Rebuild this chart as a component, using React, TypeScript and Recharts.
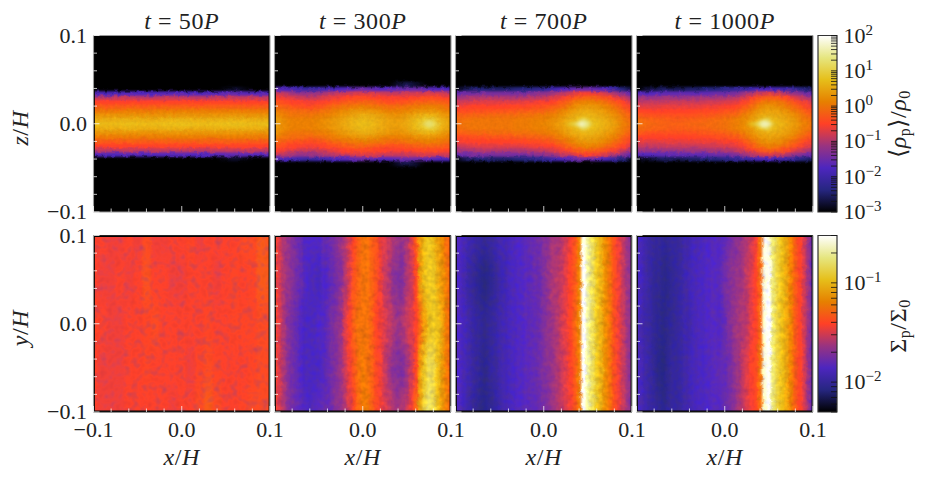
import { ScatterChart, Scatter, XAxis, YAxis, ReferenceArea } from "recharts";

// CMRmap colour stops, low to high
const CMAP = [
  [0, 0, 0], [38, 38, 128], [77, 38, 191], [153, 51, 128], [255, 64, 38],
  [230, 128, 0], [230, 191, 26], [230, 230, 128], [255, 255, 255],
];

const TITLES = ["50", "300", "700", "1000"];
const AXIS_TICKS = [-0.1, -0.08, -0.06, -0.04, -0.02, 0, 0.02, 0.04, 0.06, 0.08, 0.1];

const RHO_TICKS = [
  0.001, 0.002, 0.003, 0.004, 0.005, 0.006, 0.007, 0.008, 0.009,
  0.01, 0.02, 0.03, 0.04, 0.05, 0.06, 0.07, 0.08, 0.09,
  0.1, 0.2, 0.3, 0.4, 0.5, 0.6, 0.7, 0.8, 0.9,
  1, 2, 3, 4, 5, 6, 7, 8, 9,
  10, 20, 30, 40, 50, 60, 70, 80, 90, 100,
];
const SIGMA_TICKS = [0.005, 0.006, 0.007, 0.008, 0.009, 0.01, 0.02, 0.03, 0.04, 0.05, 0.06, 0.07, 0.08, 0.09, 0.1, 0.2, 0.3];

// log10 of <rho_p>/rho_0, one row per z (z = 0 upward, mirrored below the midplane)
const RHO_Z = [0, 0.005, 0.01, 0.015, 0.02, 0.025, 0.03, 0.035, 0.04, 0.045];

const RHO_50 = [
  [0.7, 0.65, 0.7, 0.65, 0.7, 0.72, 0.68, 0.7, 0.72, 0.68, 0.7],
  [0.55, 0.55, 0.58, 0.55, 0.58, 0.6, 0.55, 0.58, 0.6, 0.55, 0.55],
  [0.3, 0.3, 0.3, 0.28, 0.3, 0.32, 0.3, 0.3, 0.32, 0.3, 0.3],
  [0.05, 0.05, 0.08, 0.05, 0.1, 0.1, 0.08, 0.08, 0.1, 0.05, 0.05],
  [-0.25, -0.25, -0.22, -0.25, -0.22, -0.2, -0.22, -0.22, -0.22, -0.25, -0.25],
  [-0.5, -0.5, -0.5, -0.5, -0.48, -0.48, -0.5, -0.48, -0.48, -0.5, -0.5],
  [-0.85, -0.9, -0.85, -0.9, -0.85, -0.85, -0.9, -0.85, -0.85, -0.85, -0.9],
  [-1.7, -1.8, -1.7, -1.75, -1.7, -1.7, -1.75, -1.7, -1.6, -1.7, -1.7],
  [-3, -3, -3, -3, -3, -3, -3, -3, -2.8, -3, -3],
  [-3, -3, -3, -3, -3, -3, -3, -3, -3, -3, -3],
];

const RHO_300 = [
  [0.4, 0.2, 0.1, 0.1, 0.1, 0.15, 0.25, 0.35, 0.5, 0.6, 0.7, 0.65, 0.5, 0.4, 0.4, 0.5, 0.7, 0.95, 1.05, 0.6, 0.4],
  [0.4, 0.2, 0.1, 0.1, 0.1, 0.15, 0.25, 0.35, 0.45, 0.6, 0.65, 0.6, 0.5, 0.4, 0.35, 0.45, 0.65, 0.85, 0.9, 0.55, 0.35],
  [0.3, 0.1, 0, 0, 0, 0.05, 0.1, 0.25, 0.35, 0.45, 0.55, 0.5, 0.4, 0.3, 0.25, 0.35, 0.5, 0.6, 0.6, 0.4, 0.25],
  [0.1, 0, -0.1, -0.1, -0.15, -0.1, 0, 0.1, 0.2, 0.3, 0.35, 0.3, 0.2, 0.1, 0.1, 0.15, 0.25, 0.3, 0.3, 0.2, 0.05],
  [-0.1, -0.2, -0.3, -0.35, -0.4, -0.35, -0.2, -0.1, 0, 0.05, 0.1, 0.05, 0, -0.1, -0.1, 0, 0.05, 0.1, 0.1, 0, -0.1],
  [-0.3, -0.4, -0.5, -0.55, -0.6, -0.55, -0.45, -0.35, -0.25, -0.2, -0.15, -0.2, -0.3, -0.35, -0.35, -0.3, -0.2, -0.15, -0.15, -0.2, -0.3],
  [-0.5, -0.6, -0.7, -0.8, -0.85, -0.8, -0.7, -0.6, -0.5, -0.45, -0.4, -0.45, -0.5, -0.55, -0.55, -0.5, -0.45, -0.4, -0.4, -0.45, -0.5],
  [-0.8, -0.9, -1.1, -1.2, -1.2, -1.1, -1, -0.9, -0.8, -0.75, -0.7, -0.75, -0.8, -0.85, -0.85, -0.85, -0.8, -0.75, -0.75, -0.8, -0.85],
  [-1.6, -1.8, -1.9, -2, -2.1, -2, -1.9, -1.8, -1.7, -1.6, -1.5, -1.6, -1.7, -1.7, -1.6, -1.5, -1.5, -1.6, -1.7, -1.8, -1.8],
  [-3, -3, -3, -3, -3, -3, -3, -3, -3, -3, -3, -3, -3, -3, -2.8, -2.6, -2.8, -3, -3, -3, -3],
];

const RHO_700 = [
  [-0.1, 0, 0, 0, 0, 0, 0, 0.05, 0.05, 0.1, 0.15, 0.25, 0.4, 0.6, 0.85, 0.78, 0.7, 0.55, 0.4, 0.1, -0.1],
  [-0.1, -0.05, 0, 0, 0, 0, 0, 0.05, 0.05, 0.1, 0.1, 0.2, 0.35, 0.55, 0.72, 0.72, 0.65, 0.5, 0.35, 0.05, -0.15],
  [-0.2, -0.2, -0.15, -0.15, -0.1, -0.1, -0.1, -0.05, -0.05, 0, 0.05, 0.1, 0.25, 0.45, 0.6, 0.62, 0.55, 0.42, 0.25, 0, -0.25],
  [-0.4, -0.4, -0.35, -0.35, -0.3, -0.3, -0.3, -0.25, -0.2, -0.2, -0.15, -0.05, 0.1, 0.3, 0.45, 0.5, 0.42, 0.3, 0.1, -0.15, -0.4],
  [-0.6, -0.55, -0.5, -0.5, -0.5, -0.5, -0.5, -0.45, -0.45, -0.4, -0.35, -0.25, -0.1, 0.1, 0.3, 0.35, 0.3, 0.15, -0.05, -0.3, -0.55],
  [-0.85, -0.8, -0.7, -0.7, -0.7, -0.7, -0.7, -0.7, -0.65, -0.6, -0.55, -0.5, -0.3, -0.1, 0.1, 0.15, 0.1, -0.05, -0.25, -0.5, -0.8],
  [-1.1, -1.05, -1, -0.95, -0.95, -0.95, -1, -1, -0.95, -0.9, -0.85, -0.75, -0.6, -0.4, -0.2, -0.15, -0.2, -0.35, -0.55, -0.8, -1.1],
  [-1.6, -1.5, -1.4, -1.4, -1.4, -1.4, -1.4, -1.4, -1.4, -1.3, -1.25, -1.1, -0.95, -0.8, -0.6, -0.55, -0.6, -0.8, -1, -1.3, -1.7],
  [-3, -2.6, -2.5, -2.4, -2.5, -2.5, -2.5, -2.4, -2.4, -2.3, -2.2, -2, -1.8, -1.6, -1.5, -1.5, -1.6, -1.8, -2.1, -2.4, -2.8],
  [-3, -3, -3, -3, -3, -3, -3, -3, -3, -3, -3, -3, -3, -3, -3, -3, -3, -3, -3, -3, -3],
];

const RHO_1000 = [
  [0, -0.1, -0.15, -0.2, -0.2, -0.2, -0.15, -0.15, -0.1, -0.1, -0.05, 0.05, 0.15, 0.4, 0.85, 0.78, 0.65, 0.5, 0.35, 0.1, -0.05],
  [-0.05, -0.15, -0.2, -0.2, -0.25, -0.25, -0.2, -0.2, -0.15, -0.1, -0.05, 0.05, 0.15, 0.35, 0.68, 0.68, 0.6, 0.45, 0.3, 0.05, -0.1],
  [-0.25, -0.3, -0.35, -0.35, -0.35, -0.35, -0.35, -0.3, -0.3, -0.25, -0.2, -0.1, 0.05, 0.25, 0.5, 0.55, 0.5, 0.38, 0.2, -0.05, -0.25],
  [-0.45, -0.5, -0.5, -0.5, -0.5, -0.5, -0.5, -0.45, -0.45, -0.4, -0.35, -0.3, -0.15, 0.1, 0.35, 0.42, 0.38, 0.25, 0.05, -0.2, -0.4],
  [-0.65, -0.7, -0.7, -0.65, -0.65, -0.65, -0.65, -0.65, -0.6, -0.6, -0.55, -0.5, -0.35, -0.1, 0.2, 0.3, 0.25, 0.05, -0.15, -0.4, -0.6],
  [-0.85, -0.9, -0.9, -0.85, -0.85, -0.85, -0.85, -0.85, -0.8, -0.8, -0.75, -0.7, -0.55, -0.3, 0, 0.1, 0.05, -0.1, -0.35, -0.6, -0.8],
  [-1.1, -1.15, -1.15, -1.1, -1.1, -1.1, -1.1, -1.1, -1.05, -1.05, -1, -0.95, -0.8, -0.55, -0.3, -0.2, -0.25, -0.45, -0.7, -0.95, -1.05],
  [-1.7, -1.7, -1.7, -1.6, -1.6, -1.6, -1.6, -1.6, -1.6, -1.5, -1.5, -1.4, -1.2, -1, -0.8, -0.7, -0.8, -1, -1.2, -1.4, -1.6],
  [-3, -2.8, -2.7, -2.5, -2.6, -2.6, -2.5, -2.5, -2.4, -2.4, -2.3, -2.2, -2.1, -2, -1.8, -1.8, -1.9, -2, -2.2, -2.4, -2.6],
  [-3, -3, -3, -3, -3, -3, -3, -3, -3, -3, -3, -3, -3, -3, -3, -3, -3, -3, -3, -3, -3],
];

// bright clump cores, [x, z, log10 value]
const CORE_300 = [[0.0725, 0, 1.25], [0.075, 0, 1.4], [0.0775, 0, 1.25], [0.075, 0.0025, 1.25], [0.075, -0.0025, 1.25]];
const CORE_700 = [
  [0.03, 0, 0.85], [0.035, 0, 1.05], [0.04, 0, 1.5], [0.0425, 0, 1.95], [0.045, 0, 2], [0.0475, 0, 1.8], [0.05, 0, 1.3],
  [0.0425, 0.0025, 1.5], [0.045, 0.0025, 1.8], [0.0475, 0.0025, 1.4], [0.0425, -0.0025, 1.5], [0.045, -0.0025, 1.8], [0.0475, -0.0025, 1.4],
  [0.045, 0.005, 1.2], [0.045, -0.005, 1.2],
];
const CORE_1000 = [
  [0.03, 0, 0.7], [0.035, 0, 0.95], [0.04, 0, 1.4], [0.0425, 0, 1.7], [0.045, 0, 1.95], [0.0475, 0, 2], [0.05, 0, 1.5],
  [0.0425, 0.0025, 1.4], [0.045, 0.0025, 1.7], [0.0475, 0.0025, 1.6], [0.0425, -0.0025, 1.4], [0.045, -0.0025, 1.7], [0.0475, -0.0025, 1.6],
  [0.0475, 0.005, 1.15], [0.0475, -0.005, 1.15],
];

// log10 of Sigma_p/Sigma_0, one row per y, top to bottom
const SIGMA_Y = [0.1, 0.05, 0, -0.05, -0.1];

const SIGMA_50 = [
  [-1.42, -1.42, -1.45, -1.45, -1.42, -1.45, -1.38, -1.45, -1.45, -1.42, -1.42, -1.4, -1.45, -1.42, -1.42, -1.42, -1.42, -1.38, -1.38, -1.33, -1.35],
  [-1.42, -1.45, -1.45, -1.42, -1.45, -1.42, -1.36, -1.42, -1.42, -1.45, -1.45, -1.42, -1.42, -1.42, -1.45, -1.42, -1.4, -1.42, -1.4, -1.33, -1.33],
  [-1.4, -1.42, -1.45, -1.45, -1.42, -1.42, -1.4, -1.38, -1.42, -1.42, -1.42, -1.42, -1.42, -1.4, -1.42, -1.42, -1.4, -1.4, -1.4, -1.38, -1.38],
  [-1.42, -1.45, -1.45, -1.45, -1.42, -1.42, -1.4, -1.42, -1.42, -1.42, -1.42, -1.45, -1.4, -1.38, -1.4, -1.42, -1.42, -1.42, -1.4, -1.38, -1.38],
  [-1.42, -1.45, -1.45, -1.45, -1.42, -1.42, -1.42, -1.42, -1.42, -1.45, -1.42, -1.42, -1.38, -1.32, -1.38, -1.42, -1.42, -1.4, -1.38, -1.38, -1.38],
];

const SIGMA_300 = [
  [-1.4, -1.5, -1.6, -1.65, -1.7, -1.75, -1.8, -1.85, -1.85, -1.85,
    -1.85, -1.8, -1.8, -1.75, -1.7, -1.65, -1.6, -1.5, -1.4, -1.3,
    -1.25, -1.25, -1.3, -1.35, -1.45, -1.5, -1.55, -1.6, -1.65, -1.65,
    -1.6, -1.5, -1.35, -1.1, -1, -0.95, -1, -1.1, -1.18, -1.27,
    -1.32],
  [-1.4, -1.5, -1.6, -1.65, -1.7, -1.75, -1.8, -1.85, -1.88, -1.88,
    -1.9, -1.85, -1.85, -1.8, -1.75, -1.7, -1.6, -1.5, -1.35, -1.3,
    -1.25, -1.25, -1.3, -1.35, -1.45, -1.55, -1.6, -1.7, -1.72, -1.72,
    -1.6, -1.55, -1.4, -1.1, -0.98, -0.95, -0.95, -1.05, -1.13, -1.22,
    -1.32],
  [-1.4, -1.5, -1.6, -1.7, -1.75, -1.8, -1.85, -1.88, -1.88, -1.88,
    -1.85, -1.85, -1.8, -1.75, -1.7, -1.65, -1.5, -1.4, -1.3, -1.25,
    -1.25, -1.25, -1.3, -1.4, -1.45, -1.5, -1.55, -1.6, -1.65, -1.6,
    -1.55, -1.5, -1.42, -1.3, -1.1, -0.98, -0.95, -0.98, -1.08, -1.22,
    -1.32],
  [-1.4, -1.5, -1.6, -1.7, -1.75, -1.8, -1.85, -1.88, -1.88, -1.88,
    -1.88, -1.85, -1.8, -1.75, -1.7, -1.65, -1.55, -1.45, -1.35, -1.25,
    -1.22, -1.25, -1.3, -1.38, -1.45, -1.55, -1.62, -1.7, -1.72, -1.72,
    -1.65, -1.55, -1.4, -1.12, -0.95, -0.85, -0.87, -1, -1.12, -1.22,
    -1.32],
  [-1.4, -1.5, -1.6, -1.7, -1.75, -1.78, -1.82, -1.85, -1.88, -1.85,
    -1.82, -1.8, -1.8, -1.75, -1.7, -1.65, -1.6, -1.5, -1.38, -1.3,
    -1.22, -1.22, -1.3, -1.38, -1.45, -1.5, -1.55, -1.6, -1.62, -1.6,
    -1.55, -1.45, -1.3, -1.05, -0.88, -0.8, -0.85, -1, -1.12, -1.22,
    -1.32],
];

const SIGMA_700 = [
  [-1.85, -1.87, -1.9, -1.94, -1.96, -1.98, -2, -2, -1.98, -1.96,
    -1.92, -1.92, -1.9, -1.88, -1.85, -1.85, -1.82, -1.8, -1.78, -1.76,
    -1.7, -1.68, -1.62, -1.62, -1.58, -1.52, -1.45, -1.35, -1.2, -0.55,
    -0.7, -0.82, -0.95, -1.04, -1.16, -1.25, -1.37, -1.46, -1.55, -1.64,
    -1.71],
  [-1.85, -1.88, -1.92, -1.98, -2, -2.04, -2.07, -2.07, -2.04, -2,
    -1.96, -1.94, -1.9, -1.88, -1.86, -1.85, -1.82, -1.82, -1.78, -1.78,
    -1.72, -1.66, -1.6, -1.58, -1.55, -1.48, -1.41, -1.34, -1.2, -0.52,
    -0.7, -0.82, -0.95, -1.04, -1.16, -1.25, -1.37, -1.46, -1.55, -1.64,
    -1.71],
  [-1.85, -1.87, -1.9, -1.94, -1.98, -2, -2.02, -2.02, -2, -1.98,
    -1.94, -1.92, -1.9, -1.88, -1.86, -1.85, -1.82, -1.82, -1.8, -1.78,
    -1.72, -1.68, -1.62, -1.6, -1.52, -1.48, -1.4, -1.3, -1.2, -0.52,
    -0.7, -0.82, -0.95, -1.04, -1.16, -1.25, -1.37, -1.46, -1.55, -1.64,
    -1.71],
  [-1.85, -1.87, -1.9, -1.94, -1.98, -2, -2.04, -2.04, -2, -1.98,
    -1.94, -1.92, -1.9, -1.88, -1.85, -1.85, -1.82, -1.8, -1.8, -1.76,
    -1.72, -1.7, -1.65, -1.6, -1.55, -1.5, -1.42, -1.34, -1.22, -0.52,
    -0.7, -0.82, -0.95, -1.04, -1.16, -1.25, -1.37, -1.46, -1.55, -1.64,
    -1.71],
  [-1.85, -1.87, -1.92, -1.96, -2, -2.03, -2.06, -2.05, -2.03, -2,
    -1.96, -1.92, -1.9, -1.88, -1.85, -1.85, -1.82, -1.82, -1.8, -1.78,
    -1.74, -1.7, -1.65, -1.6, -1.55, -1.5, -1.45, -1.35, -1.22, -0.55,
    -0.7, -0.82, -0.95, -1.04, -1.16, -1.25, -1.37, -1.46, -1.55, -1.64,
    -1.71],
];

const SIGMA_1000 = [
  [-1.87, -1.9, -1.94, -1.98, -2, -2, -2.02, -2.02, -2, -2,
    -1.98, -1.94, -1.94, -1.9, -1.9, -1.88, -1.86, -1.85, -1.84, -1.84,
    -1.82, -1.75, -1.72, -1.68, -1.62, -1.6, -1.52, -1.46, -1.25, -0.55,
    -0.6, -0.78, -0.9, -0.99, -1.07, -1.2, -1.32, -1.41, -1.52, -1.66,
    -1.8],
  [-1.87, -1.9, -1.94, -1.98, -2.02, -2.02, -2.05, -2.05, -2.02, -2,
    -1.98, -1.94, -1.92, -1.9, -1.88, -1.88, -1.85, -1.84, -1.84, -1.82,
    -1.75, -1.72, -1.68, -1.65, -1.62, -1.55, -1.5, -1.42, -1.3, -0.6,
    -0.55, -0.78, -0.9, -0.99, -1.07, -1.2, -1.32, -1.41, -1.52, -1.66,
    -1.8],
  [-1.87, -1.92, -1.96, -1.98, -2.02, -2.04, -2.06, -2.04, -2.02, -2,
    -1.98, -1.94, -1.94, -1.9, -1.88, -1.88, -1.85, -1.84, -1.84, -1.84,
    -1.8, -1.72, -1.66, -1.62, -1.6, -1.56, -1.48, -1.42, -1.3, -0.58,
    -0.52, -0.78, -0.9, -0.99, -1.07, -1.2, -1.32, -1.41, -1.52, -1.66,
    -1.8],
  [-1.87, -1.9, -1.94, -1.98, -2.02, -2.06, -2.08, -2.04, -2, -2,
    -1.98, -1.94, -1.92, -1.9, -1.88, -1.88, -1.86, -1.84, -1.82, -1.8,
    -1.8, -1.75, -1.7, -1.65, -1.55, -1.5, -1.42, -1.38, -1.25, -0.6,
    -0.54, -0.78, -0.9, -0.99, -1.07, -1.2, -1.32, -1.41, -1.52, -1.66,
    -1.8],
  [-1.87, -1.9, -1.94, -1.98, -2, -2.02, -2.05, -2.02, -2, -2,
    -1.98, -1.94, -1.92, -1.9, -1.88, -1.88, -1.86, -1.84, -1.84, -1.82,
    -1.8, -1.75, -1.7, -1.62, -1.56, -1.5, -1.45, -1.4, -1.27, -0.62,
    -0.54, -0.78, -0.9, -0.99, -1.07, -1.2, -1.32, -1.41, -1.52, -1.66,
    -1.8],
];

const TOP_RHO = [RHO_50, RHO_300, RHO_700, RHO_1000];
const TOP_CORES = [[], CORE_300, CORE_700, CORE_1000];
const BOTTOM_SIGMA = [SIGMA_50, SIGMA_300, SIGMA_700, SIGMA_1000];

// layout
const PAGE_W = 926;
const PAGE_H = 481;
const PANEL_X = [93.5, 274.5, 455.5, 636.5];
const PANEL_W = 176.5;
const PANEL_H = 176.5;
const TOP_Y = 35.5;
const BOTTOM_Y = 235.5;
const BAR_X = 818;
const BAR_W = 19;
const RHO_RANGE = [-3, 2];
const SIGMA_RANGE = [-2.301, -0.523];
const FONT = "'Liberation Serif', serif";
const INK = "#222";

function colorOf(value: number, range: number[]) {
  const f = Math.min(1, Math.max(0, (value - range[0]) / (range[1] - range[0]))) * (CMAP.length - 1);
  const i = Math.min(CMAP.length - 2, Math.floor(f));
  const t = f - i;
  const c = CMAP[i].map((v, k) => Math.round(v + (CMAP[i + 1][k] - v) * t));
  return `rgb(${c[0]},${c[1]},${c[2]})`;
}

function buildCells(rows: number[][], ys: number[], range: number[], mirror: boolean) {
  const cells: any[] = [];
  rows.forEach((row, r) => {
    row.forEach((v, c) => {
      const x = -0.1 + (0.2 * c) / (row.length - 1);
      const base = { x, fill: colorOf(v, range), left: c === 0, right: c === row.length - 1 };
      cells.push({ ...base, y: ys[r], top: !mirror && r === 0, bottom: !mirror && r === rows.length - 1 });
      if (mirror && ys[r] !== 0) cells.push({ ...base, y: -ys[r] });
    });
  });
  return cells;
}

function cellShape(w: number, h: number) {
  return (props: any) => {
    const p = props.payload;
    const pad = 34;
    const x0 = props.cx - w / 2 - (p.left ? pad : 0);
    const x1 = props.cx + w / 2 + (p.right ? pad : 0) + 0.6;
    const y0 = props.cy - h / 2 - (p.top ? pad : 0);
    const y1 = props.cy + h / 2 + (p.bottom ? pad : 0) + 0.6;
    return <rect x={x0} y={y0} width={x1 - x0} height={y1 - y0} fill={p.fill} />;
  };
}

function frameTick(side: string, labels: number[]) {
  return (p: any) => {
    const v = p.payload.value;
    const major = Math.abs(v) < 1e-9 || Math.abs(Math.abs(v) - 0.1) < 1e-9;
    const len = major ? 6 : 3.5;
    const dx = side === "left" ? len : side === "right" ? -len : 0;
    const dy = side === "top" ? len : side === "bottom" ? -len : 0;
    const hasLabel = labels.some((l) => Math.abs(l - v) < 1e-9);
    const text = (v < 0 ? "\u2212" : "") + Math.abs(v).toFixed(1);
    return (
      <g>
        <line x1={p.x} y1={p.y} x2={p.x + dx} y2={p.y + dy} stroke="#fff" strokeOpacity={0.85} strokeWidth={0.9} />
        {hasLabel && side === "bottom" && (
          <text x={p.x} y={p.y + 25} textAnchor="middle" fontFamily={FONT} fontSize={22} fill={INK}>{text}</text>
        )}
        {hasLabel && side === "left" && (
          <text x={p.x - 6.5} y={p.y + 7} textAnchor="end" fontFamily={FONT} fontSize={22} fill={INK}>{text}</text>
        )}
      </g>
    );
  };
}

function HeatPanel({ id, px, py, cells, rowPx, colPx, core, edge, xLabels, yLabels, range }: any) {
  return (
    <ScatterChart
      width={PAGE_W}
      height={PAGE_H}
      margin={{ left: px - 1, top: py - 1, right: PAGE_W - px - PANEL_W - 1, bottom: PAGE_H - py - PANEL_H - 1 }}
      style={{ position: "absolute", left: 0, top: 0 }}
    >
      <ReferenceArea xAxisId="b" yAxisId="l" x1={-0.1} x2={0.1} y1={-0.1} y2={0.1} fill="#000" fillOpacity={1} stroke="none" />
      <Scatter xAxisId="b" yAxisId="l" data={cells} className={`heat-${id}`} shape={cellShape(colPx, rowPx)} isAnimationActive={false} />
      {core.length > 0 && (
        <Scatter
          xAxisId="b"
          yAxisId="l"
          data={core.map((c: number[]) => ({ x: c[0], y: c[1], fill: colorOf(c[2], range) }))}
          className={`core-${id}`}
          shape={cellShape(4.4, 3)}
          isAnimationActive={false}
        />
      )}
      <XAxis xAxisId="b" type="number" dataKey="x" orientation="bottom" height={1} domain={[-0.1, 0.1]} ticks={AXIS_TICKS} interval={0} tickSize={0} tickMargin={0} tickLine={false} axisLine={{ stroke: edge, strokeWidth: 1.1 }} tick={frameTick("bottom", xLabels)} />
      <YAxis yAxisId="l" type="number" dataKey="y" orientation="left" width={1} domain={[-0.1, 0.1]} ticks={AXIS_TICKS} interval={0} tickSize={0} tickMargin={0} tickLine={false} axisLine={{ stroke: "#999", strokeWidth: 1.1 }} tick={frameTick("left", yLabels)} />
      <XAxis xAxisId="t" type="number" orientation="top" height={1} domain={[-0.1, 0.1]} ticks={AXIS_TICKS} interval={0} tickSize={0} tickMargin={0} tickLine={false} axisLine={{ stroke: edge, strokeWidth: 1.1 }} tick={frameTick("top", [])} />
      <YAxis yAxisId="r" type="number" orientation="right" width={1} domain={[-0.1, 0.1]} ticks={AXIS_TICKS} interval={0} tickSize={0} tickMargin={0} tickLine={false} axisLine={{ stroke: "#999", strokeWidth: 1.1 }} tick={frameTick("right", [])} />
    </ScatterChart>
  );
}

function barTick(p: any) {
  const v = p.payload.value;
  const log = Math.log10(v);
  const major = Math.abs(log - Math.round(log)) < 1e-6;
  const exp = Math.round(log);
  return (
    <g>
      <line x1={p.x} y1={p.y} x2={p.x - 6} y2={p.y} stroke="#111" strokeWidth={0.8} />
      {major && (
        <text x={p.x + 6.5} y={p.y + 7} fontFamily={FONT} fontSize={22} fill={INK}>
          10<tspan dy={-8} fontSize={15}>{exp < 0 ? `\u2212${-exp}` : exp}</tspan>
        </text>
      )}
    </g>
  );
}

function ColorBar({ py, domain, ticks }: any) {
  return (
    <ScatterChart
      width={PAGE_W}
      height={PAGE_H}
      margin={{ left: BAR_X, top: py, right: PAGE_W - BAR_X - BAR_W - 1, bottom: PAGE_H - py - PANEL_H }}
      style={{ position: "absolute", left: 0, top: 0 }}
    >
      <XAxis xAxisId="b" type="number" dataKey="x" height={0} domain={[0, 1]} hide />
      <ReferenceArea xAxisId="b" yAxisId="r" x1={0} x2={1} y1={domain[0]} y2={domain[1]} fill="url(#cmap)" fillOpacity={1} stroke="#333" strokeWidth={1.2} />
      <Scatter xAxisId="b" yAxisId="r" data={ticks.map((t: number) => ({ x: 0.5, y: t }))} shape={() => <g />} isAnimationActive={false} />
      <YAxis yAxisId="r" type="number" dataKey="y" orientation="right" width={1} scale="log" domain={domain} allowDataOverflow ticks={ticks} interval={0} tickSize={0} tickMargin={0} tickLine={false} axisLine={false} tick={barTick} />
    </ScatterChart>
  );
}

function HeatFilter({ id, blur, dispFreq, dispScale, grainFreq, grain, gain, spot, seed }: any) {
  return (
    <filter id={id} x={0} y={0} width={PAGE_W} height={PAGE_H} filterUnits="userSpaceOnUse" colorInterpolationFilters="sRGB">
      <feGaussianBlur in="SourceGraphic" stdDeviation={blur} result="b" />
      <feTurbulence type="fractalNoise" baseFrequency={dispFreq} numOctaves={2} seed={seed} result="n" />
      <feDisplacementMap in="b" in2="n" scale={dispScale} xChannelSelector="R" yChannelSelector="G" result="d" />
      <feTurbulence type="fractalNoise" baseFrequency={grainFreq} numOctaves={2} seed={seed + 7} result="g" />
      <feColorMatrix in="g" type="matrix" values="1 0 0 0 0  1 0 0 0 0  -1 0 0 0 1  0 0 0 0 1" result="m" />
      <feComposite in="d" in2="m" operator="arithmetic" k1={grain} k2={gain - grain / 2} k3={0} k4={0} result="t" />
      {spot > 0 ? (
        <>
          <feColorMatrix in="g" type="matrix" values={`0 0 0 0 0.6  0 0 0 0 0.22  0 0 0 0 0.5  ${spot} 0 0 0 ${-spot * 0.46}`} result="s" />
          <feComposite in="s" in2="t" operator="atop" />
        </>
      ) : null}
    </filter>
  );
}

const mathDiv = (left: number, top: number, rotate: boolean, content: any, key?: any, size = 24) => (
  <div
    key={key}
    style={{
      position: "absolute",
      left,
      top,
      transform: `translate(-50%, -50%)${rotate ? " rotate(-90deg)" : ""}`,
      whiteSpace: "nowrap",
      fontFamily: FONT,
      fontSize: size,
      letterSpacing: 0.6,
      lineHeight: 1,
      color: INK,
    }}
  >
    {content}
  </div>
);

const subStyle = { fontSize: 16, verticalAlign: "-4px", lineHeight: 0 };

export default function App() {
  const css = PANEL_X.map((px, i) => `
    .heat-t${i}{filter:url(#ft${i});clip-path:url(#ct${i})}
    .core-t${i}{filter:url(#core);clip-path:url(#ct${i})}
    .heat-b${i}{filter:url(#fb${i});clip-path:url(#cb${i})}
  `).join("");

  return (
    <div style={{ position: "relative", width: PAGE_W, height: PAGE_H, background: "#fff", overflow: "hidden" }}>
      <style>{`body{margin:0}${css}`}</style>
      <svg width={0} height={0} style={{ position: "absolute" }}>
        <defs>
          <linearGradient id="cmap" x1="0" y1="1" x2="0" y2="0">
            {CMAP.map((c, i) => (
              <stop key={i} offset={i / (CMAP.length - 1)} stopColor={`rgb(${c[0]},${c[1]},${c[2]})`} />
            ))}
          </linearGradient>
          <filter id="core" x={0} y={0} width={PAGE_W} height={PAGE_H} filterUnits="userSpaceOnUse" colorInterpolationFilters="sRGB">
            <feGaussianBlur stdDeviation="2 1.5" />
          </filter>
          {PANEL_X.map((px, i) => (
            <g key={i}>
              <clipPath id={`ct${i}`}><rect x={px + 1.4} y={TOP_Y + 0.6} width={PANEL_W - 2.8} height={PANEL_H - 1.2} /></clipPath>
              <clipPath id={`cb${i}`}><rect x={px + 1.4} y={BOTTOM_Y + 1.4} width={PANEL_W - 2.8} height={PANEL_H - 2.8} /></clipPath>
              <HeatFilter id={`ft${i}`} blur={i === 0 ? "5 1.1" : "3 1.1"} dispFreq={0.22} dispScale={3.5} grainFreq={0.3} grain={0.1} gain={1.02} spot={0} seed={3 + i} />
              <HeatFilter id={`fb${i}`} blur="1.1 11" dispFreq={0.16} dispScale={i === 0 ? 3 : 4} grainFreq={i === 0 ? 0.13 : 0.18} grain={i === 0 ? 0.2 : 0.3} gain={i === 0 ? 1.03 : 1.03} spot={i === 0 ? 1.1 : 0} seed={11 + i * 5} />
            </g>
          ))}
        </defs>
      </svg>

      {PANEL_X.map((px, i) => (
        <HeatPanel
          key={`t${i}`}
          id={`t${i}`}
          px={px}
          py={TOP_Y}
          cells={buildCells(TOP_RHO[i], RHO_Z, RHO_RANGE, true)}
          colPx={PANEL_W / (TOP_RHO[i][0].length - 1)}
          rowPx={(PANEL_H * 0.005) / 0.2}
          core={TOP_CORES[i]}
          range={RHO_RANGE}
          edge="#999"
          xLabels={[]}
          yLabels={i === 0 ? [-0.1, 0, 0.1] : []}
        />
      ))}
      {PANEL_X.map((px, i) => (
        <HeatPanel
          key={`b${i}`}
          id={`b${i}`}
          px={px}
          py={BOTTOM_Y}
          cells={buildCells(BOTTOM_SIGMA[i], SIGMA_Y, SIGMA_RANGE, false)}
          colPx={PANEL_W / (BOTTOM_SIGMA[i][0].length - 1)}
          rowPx={(PANEL_H * 0.05) / 0.2}
          core={[]}
          range={SIGMA_RANGE}
          edge="#222"
          xLabels={i === 0 ? [-0.1, 0, 0.1] : [0, 0.1]}
          yLabels={i === 0 ? [-0.1, 0, 0.1] : []}
        />
      ))}
      <ColorBar py={TOP_Y} domain={[0.001, 100]} ticks={RHO_TICKS} />
      <ColorBar py={BOTTOM_Y} domain={[0.005, 0.3]} ticks={SIGMA_TICKS} />

      {PANEL_X.map((px, i) =>
        mathDiv(px + PANEL_W / 2, 21, false, <><i>t</i> = {TITLES[i]}<i>P</i></>, `title${i}`)
      )}
      {PANEL_X.map((px, i) =>
        mathDiv(px + PANEL_W / 2, 457, false, <><i>x</i>/<i>H</i></>, `xl${i}`)
      )}
      {mathDiv(20, 128, true, <><i>z</i>/<i>H</i></>, "zl")}
      {mathDiv(20, 328, true, <><i>y</i>/<i>H</i></>, "yl")}
      {mathDiv(898, 124, true, <>⟨<i>ρ</i><span style={subStyle}>p</span>⟩/<i>ρ</i><span style={subStyle}>0</span></>, "rl")}
      {mathDiv(898, 326, true, <>Σ<span style={subStyle}>p</span>/Σ<span style={subStyle}>0</span></>, "sl")}
    </div>
  );
}
